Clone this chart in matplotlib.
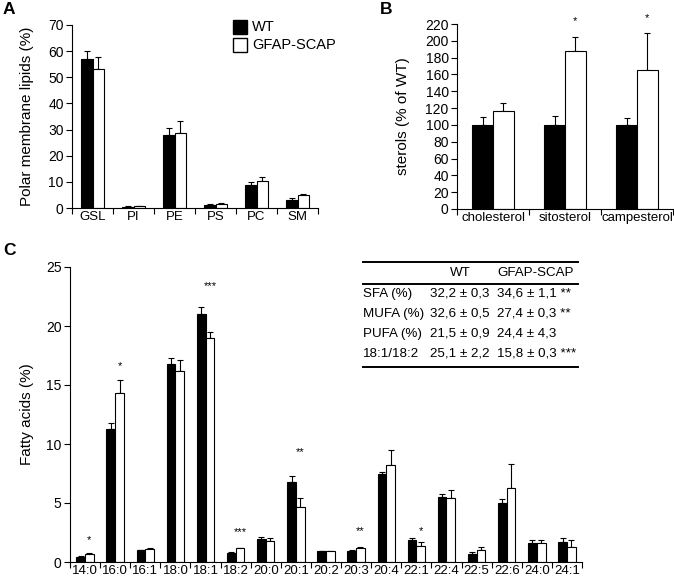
import numpy as np
import matplotlib
matplotlib.use("Agg")
import matplotlib.pyplot as plt
from matplotlib.patches import Rectangle
from matplotlib.lines import Line2D

plt.rcParams['font.family'] = ['Liberation Sans', 'DejaVu Sans']
plt.rcParams['font.size'] = 10

# ---- data ----
lipid_cats = ["GSL", "PI", "PE", "PS", "PC", "SM"]
lipid_wt = [57.0, 0.5, 27.8, 1.2, 8.8, 3.2]
lipid_wt_err = [3.0, 0.2, 2.8, 0.3, 1.2, 0.6]
lipid_ko = [53.3, 0.6, 28.7, 1.7, 10.5, 4.8]
lipid_ko_err = [4.3, 0.2, 4.6, 0.3, 1.4, 0.7]

sterol_cats = ["cholesterol", "sitosterol", "campesterol"]
sterol_wt = [100, 100, 100]
sterol_wt_err = [9, 11, 8]
sterol_ko = [117, 188, 165]
sterol_ko_err = [9, 17, 44]
sterol_stars = ["", "*", "*"]
sterol_star_y = [None, 223, 227]

fa_cats = ["14:0", "16:0", "16:1", "18:0", "18:1", "18:2", "20:0", "20:1", "20:2",
           "20:3", "20:4", "22:1", "22:4", "22:5", "22:6", "24:0", "24:1"]
fa_wt = [0.45, 11.3, 1.0, 16.8, 21.05, 0.8, 1.95, 6.8, 0.9,
         0.9, 7.5, 1.85, 5.5, 0.7, 5.0, 1.6, 1.7]
fa_wt_err = [0.05, 0.45, 0.05, 0.45, 0.55, 0.05, 0.15, 0.45, 0.05,
             0.15, 0.15, 0.15, 0.3, 0.17, 0.34, 0.25, 0.3]
fa_ko = [0.7, 14.3, 1.1, 16.2, 19.0, 1.15, 1.75, 4.65, 0.9,
         1.2, 8.2, 1.35, 5.4, 1.05, 6.3, 1.6, 1.3]
fa_ko_err = [0.1, 1.15, 0.05, 0.9, 0.5, 0.05, 0.3, 0.75, 0.05,
             0.05, 1.3, 0.35, 0.7, 0.23, 2.0, 0.3, 0.56]
fa_stars = ["*", "*", "", "", "***", "***", "", "**", "",
            "**", "", "*", "", "", "", "", ""]
fa_star_y = [1.9, 16.6, None, None, 23.4, 2.5, None, 9.3, None,
             2.6, None, 2.6, None, None, None, None, None]

table_cols = ["WT", "GFAP-SCAP"]
table_rows = ["SFA (%)", "MUFA (%)", "PUFA (%)", "18:1/18:2"]
table_wt = ["32,2 \u00b1 0,3", "32,6 \u00b1 0,5", "21,5 \u00b1 0,9", "25,1 \u00b1 2,2"]
table_ko = ["34,6 \u00b1 1,1 **", "27,4 \u00b1 0,3 **", "24,4 \u00b1 4,3", "15,8 \u00b1 0,3 ***"]

W, H = 674, 579
fig = plt.figure(figsize=(W / 100, H / 100), dpi=100)


def fr(x0, y0, x1, y1):
    # pixel box -> figure fraction rect
    return [x0 / W, 1 - y1 / H, (x1 - x0) / W, (y1 - y0) / H]


def grouped(ax, cats, wt, wte, ko, koe, ymax, yticks, bw=0.29):
    x = np.arange(len(cats))
    z = np.zeros(len(cats))
    ax.bar(x - bw / 2, wt, bw, color="black", edgecolor="black", linewidth=0.8, zorder=2)
    ax.bar(x + bw / 2, ko, bw, color="white", edgecolor="black", linewidth=0.8, zorder=2)
    ax.errorbar(x - bw / 2, wt, yerr=[z, wte], fmt="none", ecolor="black",
                elinewidth=0.8, capsize=2.5, capthick=0.8, zorder=1)
    ax.errorbar(x + bw / 2, ko, yerr=[z, koe], fmt="none", ecolor="black",
                elinewidth=0.8, capsize=2.5, capthick=0.8, zorder=1)
    ax.set_xlim(-0.5, len(cats) - 0.5)
    ax.set_ylim(0, ymax)
    ax.set_yticks(yticks)
    ax.set_xticks(x)
    ax.set_xticklabels(cats, fontsize=9.5)
    ax.set_xticks(np.arange(len(cats) + 1) - 0.5, minor=True)
    ax.tick_params(axis="x", which="major", length=0, pad=2)
    ax.tick_params(axis="x", which="minor", length=4, direction="out", width=0.8)
    ax.tick_params(axis="y", length=4, direction="out", width=0.8, pad=2, labelsize=10)
    for s in ["top", "right"]:
        ax.spines[s].set_visible(False)
    for s in ["left", "bottom"]:
        ax.spines[s].set_linewidth(0.8)
    return x


def ylab(ax, text, xc):
    ax.set_ylabel(text, fontsize=11)
    ax.yaxis.set_label_coords(xc, 0.5)
    ax.yaxis.label.set_va("center")


# ---- panel A ----
axA = fig.add_axes(fr(72, 25, 318, 208))
grouped(axA, lipid_cats, lipid_wt, lipid_wt_err, lipid_ko, lipid_ko_err,
        70, np.arange(0, 71, 10))
ylab(axA, "Polar membrane lipids (%)", (27.5 - 72) / 246)

# legend drawn in figure pixels
for k, (fc, lab) in enumerate([("black", "WT"), ("white", "GFAP-SCAP")]):
    y0 = 20 + 18 * k
    fig.add_artist(Rectangle((233 / W, 1 - (y0 + 14) / H), 14 / W, 14 / H,
                             facecolor=fc, edgecolor="black", lw=1,
                             transform=fig.transFigure))
    fig.text(252 / W, 1 - (y0 + 7) / H, lab, ha="left", va="center", fontsize=10.5)

# ---- panel B ----
axB = fig.add_axes(fr(457, 24, 673, 209))
xb = grouped(axB, sterol_cats, sterol_wt, sterol_wt_err, sterol_ko, sterol_ko_err,
             220, np.arange(0, 221, 20))
ylab(axB, "sterols (% of WT)", (403 - 457) / 216)
for i, s in enumerate(sterol_stars):
    if s:
        axB.text(xb[i] + 0.145, sterol_star_y[i], s,
                 ha="center", va="center", fontsize=8, clip_on=False)

# ---- panel C ----
axC = fig.add_axes(fr(70, 267, 582, 562))
xc = grouped(axC, fa_cats, fa_wt, fa_wt_err, fa_ko, fa_ko_err,
             25, np.arange(0, 26, 5))
ylab(axC, "Fatty acids (%)", (27 - 70) / 512)
for i, s in enumerate(fa_stars):
    if s:
        axC.text(xc[i] + 0.145, fa_star_y[i], s, ha="center", va="center", fontsize=8)

# ---- summary table ----
x_lab, x_wt, x_ko, x_end = 363, 430, 497, 578
y_rows = [294, 314, 334, 354]
fs_t = 9.6
for yl in [262, 284, 367]:
    fig.add_artist(Line2D([x_lab / W, x_end / W], [1 - yl / H] * 2, color="black", lw=1.4))
fig.text(460 / W, 1 - 273 / H, table_cols[0], ha="center", va="center", fontsize=fs_t)
fig.text(x_ko / W, 1 - 273 / H, table_cols[1], ha="left", va="center", fontsize=fs_t)
for r, y in enumerate(y_rows):
    fig.text(x_lab / W, 1 - y / H, table_rows[r], ha="left", va="center", fontsize=fs_t)
    fig.text(x_wt / W, 1 - y / H, table_wt[r], ha="left", va="center", fontsize=fs_t)
    fig.text(x_ko / W, 1 - y / H, table_ko[r], ha="left", va="center", fontsize=fs_t)

# ---- panel letters ----
fig.text(3 / W, 1 - 10 / H, "A", fontsize=12.5, fontweight="bold", va="center")
fig.text(380 / W, 1 - 10 / H, "B", fontsize=12.5, fontweight="bold", va="center")
fig.text(3 / W, 1 - 250 / H, "C", fontsize=12.5, fontweight="bold", va="center")

fig.savefig("out.png", dpi=100)
